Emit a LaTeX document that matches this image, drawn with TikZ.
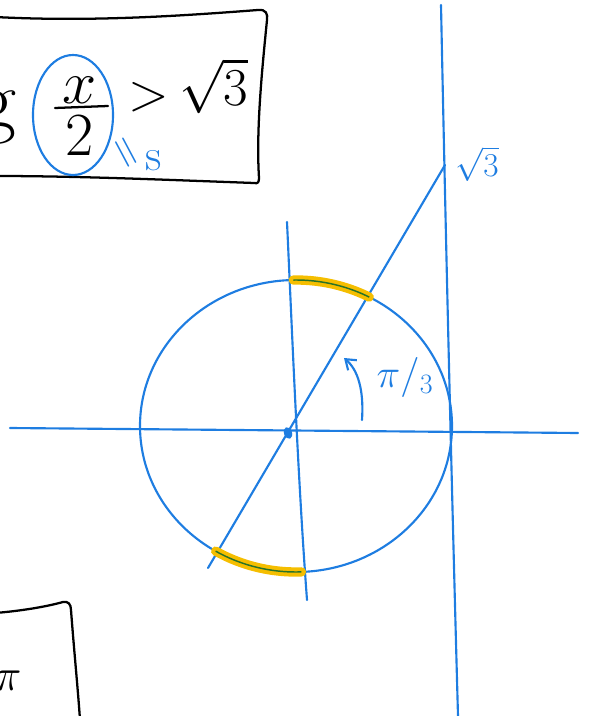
\documentclass[tikz,border=0pt]{standalone}
\usepackage{fix-cm}
\usetikzlibrary{arrows.meta}
\definecolor{pen}{RGB}{30,125,225}
\definecolor{hl}{RGB}{245,190,0}
\definecolor{hg}{RGB}{40,115,40}
\begin{document}
\begin{tikzpicture}[x=0.75pt,y=-0.75pt,
  bl/.style={pen,line width=1.6pt,line cap=round,line join=round},
  bk/.style={black,line width=1.7pt,line cap=round,line join=round},
  big/.style={inner sep=0pt,font=\fontsize{46}{46}\selectfont},
  bluetext/.style={inner sep=0pt,text=pen}]
\useasboundingbox (0,0) rectangle (588,716);
\begin{scope}
\clip (0,0) rectangle (588,716);
% ---------- top box ----------
\coordinate (tbl) at (-5,17);
\coordinate (tbl2) at (-5,176);
\draw[bk] (tbl) .. controls (90,22) and (180,16) .. (258,10)
  .. controls (266,9) and (268,14) .. (267,20)
  .. controls (262,70) and (256,130) .. (259,178)
  .. controls (259,182) and (258,184) .. (254,183)
  .. controls (170,180) and (80,176) .. (tbl2);
\node[big,anchor=base east,font=\fontsize{62}{62}\selectfont] (g) at (17,128) {g};
\node[big] (num) at (80,90) {$x$};
\node[big] (den) at (80,136) {$2$};
\draw[bk] (55,108) -- (108,106);
\node[big,font=\fontsize{40}{40}\selectfont] (gt) at (149,97) {$>$};
\node[big,font=\fontsize{40}{40}\selectfont] (r3) at (214,86) {$\sqrt{3}$};
\draw[bl] (73,115) ellipse [x radius=40, y radius=60];
\node[bluetext,rotate=-62,font=\fontsize{34}{34}\selectfont] (eqs) at (123,154) {$=$};
\node[bluetext,font=\fontsize{34}{34}\selectfont] (s) at (154,161) {s};
% ---------- bottom-left box ----------
\draw[bk] (-5,613) .. controls (20,611) and (45,607) .. (63,602)
  .. controls (68,601) and (71,604) .. (71,610)
  .. controls (74,650) and (78,690) .. (80,720);
\node[inner sep=0pt,anchor=base,font=\fontsize{34}{34}\selectfont] (pi) at (8,690) {$\pi$};
% ---------- axes ----------
\coordinate (hx0) at (10,428);
\coordinate (hx1) at (578,433);
\coordinate (vy0) at (287,222);
\coordinate (vy1) at (307,600);
\coordinate (tv0) at (441,5);
\coordinate (tv1) at (458,716);
\coordinate (d0) at (208,568);
\coordinate (d1) at (445,165);
\draw[bl] (hx0) -- (hx1);
\draw[bl] (vy0) .. controls (292,330) and (298,480) .. (vy1);
\draw[bl] (tv0) .. controls (446,250) and (452,500) .. (tv1);
\draw[bl] (d0) -- (d1);
% ---------- circle ----------
\coordinate (O) at (296,426);
\draw[bl] (O) ellipse [x radius=156, y radius=146];
% highlights
\draw[hl,line width=7pt,line cap=round] plot[domain=62:91,smooth,samples=20] ({296+156*cos(\x)},{426-146*sin(\x)});
\draw[hl,line width=7pt,line cap=round] plot[domain=239:272,smooth,samples=20] ({296+156*cos(\x)},{426-146*sin(\x)});
\draw[hg,line width=1.1pt] plot[domain=62:91,smooth,samples=20] ({296+156*cos(\x)},{426-146*sin(\x)});
\draw[hg,line width=1.1pt] plot[domain=239:272,smooth,samples=20] ({296+156*cos(\x)},{426-146*sin(\x)});
% centre blob
\fill[pen,rotate around={20:(288,433)}] (288,433) ellipse [x radius=4, y radius=6];
% angle arrow
\coordinate (a0) at (362,420);
\coordinate (a1) at (344,358);
\draw[bl,-{Straight Barb[length=7pt,width=10pt]}] (a0) .. controls (364,390) and (358,370) .. (a1);
\node[bluetext,font=\fontsize{30}{30}\selectfont] (ang) at (405,377) {$\pi/_{3}$};
\node[bluetext,font=\fontsize{25}{25}\selectfont] (s3) at (477,164) {$\sqrt{3}$};
\end{scope}
\end{tikzpicture}
\end{document}
